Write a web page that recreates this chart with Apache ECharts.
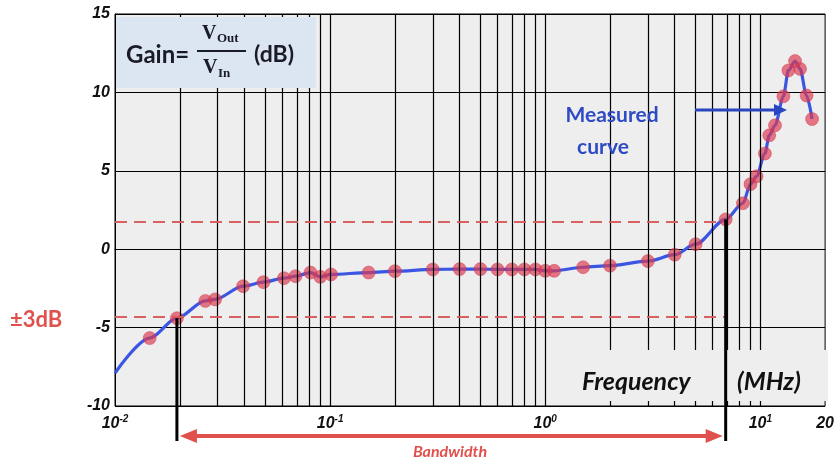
<!DOCTYPE html>
<html><head><meta charset="utf-8">
<script src="https://cdn.jsdelivr.net/npm/echarts@6/dist/echarts.min.js"></script>
<style>html,body{margin:0;padding:0;background:#fff}#c{width:837px;height:461px}</style>
</head><body><div id="c"></div>
<script>
// Measured points (frequency in MHz, gain in dB)
const freqs = [0.0145, 0.0194, 0.0263, 0.0292, 0.0394, 0.049, 0.061, 0.069, 0.081, 0.090, 0.101, 0.151, 0.2, 0.3, 0.4, 0.5, 0.6, 0.7, 0.8, 0.9, 1.0, 1.1, 1.5, 2.0, 3.0, 4.0, 5.0, 6.9, 8.3, 9.0, 9.6, 10.5, 11.0, 11.7, 12.8, 13.5, 14.5, 15.3, 16.4, 17.4];
const gains = [-5.67, -4.4, -3.3, -3.2, -2.36, -2.1, -1.85, -1.72, -1.49, -1.76, -1.61, -1.49, -1.4, -1.29, -1.27, -1.27, -1.29, -1.29, -1.29, -1.29, -1.38, -1.38, -1.15, -1.05, -0.76, -0.35, 0.32, 1.9, 2.93, 4.15, 4.65, 6.1, 7.26, 7.9, 9.75, 11.4, 12.0, 11.5, 9.8, 8.3];
// curve begins at the left edge before the first measured point
const curveStartFreq = 0.01, curveStartGain = -7.9;
// -3 dB limits and bandwidth edges (indices into measured points)
const upperLimit = 1.75, lowerLimit = -4.3;
const bandLowIdx = 1, bandHighIdx = 27;
// axis
const xMin = 0.01, xMax = 20;
const yMin = -10, yMax = 15, yStep = 5;
const gridFreqs = [0.02,0.03,0.04,0.05,0.06,0.07,0.08,0.09,0.1,0.2,0.3,0.4,0.5,0.6,0.7,0.8,0.9,1,2,3,4,5,6,7,8,9,10];

const points = freqs.map((f, i) => [f, gains[i]]);
const curve = [[curveStartFreq, curveStartGain]].concat(points);

const chart = echarts.init(document.getElementById('c'), null, {renderer: 'canvas'});
const lblFont = {fontFamily: 'Liberation Sans', fontWeight: 'bold', fontStyle: 'italic', color: '#111'};
const red = '#e0514d';

const option = {
  animation: false,
  grid: {left: 115, right: 7, top: 14, bottom: 55, show: true, backgroundColor: '#eeeeee', borderColor: '#000', borderWidth: 1},
  xAxis: {
    type: 'log', logBase: 10, min: xMin, max: xMax,
    axisLine: {show: true, lineStyle: {color: '#000', width: 1}},
    axisTick: {show: false}, splitLine: {show: false},
    axisLabel: {
      margin: 8,
      formatter: function (v) {
        const e = Math.log10(v), r = Math.round(e);
        if (Math.abs(e - r) < 1e-6) return '{b|10}{s|' + r + '}';
        return '{b|' + Math.round(v) + '}';
      },
      rich: {
        b: Object.assign({fontSize: 16, lineHeight: 20}, lblFont),
        s: Object.assign({fontSize: 10, lineHeight: 10, verticalAlign: 'top'}, lblFont)
      }
    }
  },
  yAxis: {
    type: 'value', min: yMin, max: yMax, interval: yStep,
    axisLine: {show: true, lineStyle: {color: '#000', width: 1}},
    axisTick: {show: true, inside: true, length: 4, lineStyle: {color: '#000'}},
    splitLine: {show: true, lineStyle: {color: '#000', width: 1}},
    axisLabel: Object.assign({fontSize: 16, margin: 5}, lblFont)
  },
  series: [
    {
      type: 'line', data: [], z: 1, silent: true,
      markLine: {
        silent: true, symbol: ['none', 'none'], label: {show: false},
        lineStyle: {color: '#000', width: 1.2, type: 'solid'},
        emphasis: {disabled: true},
        data: gridFreqs.map(f => ({xAxis: f}))
      }
    },
    {
      type: 'line', data: curve, smooth: 0.3, smoothMonotone: 'x', symbol: 'none', z: 3,
      lineStyle: {color: '#3a56e2', width: 3.2},
      markLine: {
        silent: true, symbol: ['none', 'none'], label: {show: false},
        lineStyle: {color: 'rgba(214,88,88,0.95)', width: 2, type: [12, 7]},
        data: [
          [{coord: [xMin, upperLimit]}, {coord: [freqs[bandHighIdx], upperLimit]}],
          [{coord: [xMin, lowerLimit]}, {coord: [freqs[bandHighIdx], lowerLimit]}]
        ]
      }
    },
    {
      type: 'scatter', data: points, symbolSize: 13, z: 4,
      itemStyle: {color: 'rgba(222,58,80,0.85)', borderColor: 'rgba(200,50,70,0.5)', borderWidth: 1}
    }
  ],
  graphic: [
    {type: 'rect', id: 'gainBox', z: 10, shape: {x: 116, y: 17, width: 200, height: 71}, style: {fill: '#dce6f2'}},
    {type: 'rect', id: 'freqBox', z: 10, shape: {x: 572, y: 350, width: 256, height: 51}, style: {fill: '#eeeeee'}},
    {type: 'text', z: 11, x: 126, y: 55, style: {text: 'Gain=', font: 'bold 24px Lato', fill: '#1b1b28', textVerticalAlign: 'middle', verticalAlign: 'middle'}},
    {type: 'text', z: 11, x: 202, y: 34, style: {text: 'V', font: 'bold 20px "Liberation Serif"', fill: '#1b1b28', textVerticalAlign: 'middle', verticalAlign: 'middle'}},
    {type: 'text', z: 11, x: 217, y: 39, style: {text: 'Out', font: 'bold 13px "Liberation Serif"', fill: '#1b1b28', textVerticalAlign: 'middle', verticalAlign: 'middle'}},
    {type: 'line', z: 11, shape: {x1: 197, y1: 51, x2: 246, y2: 51}, style: {stroke: '#1b1b28', lineWidth: 2}},
    {type: 'text', z: 11, x: 203, y: 68, style: {text: 'V', font: 'bold 20px "Liberation Serif"', fill: '#1b1b28', textVerticalAlign: 'middle', verticalAlign: 'middle'}},
    {type: 'text', z: 11, x: 218, y: 74, style: {text: 'In', font: 'bold 13px "Liberation Serif"', fill: '#1b1b28', textVerticalAlign: 'middle', verticalAlign: 'middle'}},
    {type: 'text', z: 11, x: 254, y: 55, style: {text: '(dB)', font: 'bold 23px Lato', fill: '#1b1b28', textVerticalAlign: 'middle', verticalAlign: 'middle'}},
    {type: 'text', z: 11, x: 612, y: 115, style: {text: 'Measured', font: 'bold 21px Lato', fill: '#2f4bc4', textAlign: 'center', align: 'center', textVerticalAlign: 'middle', verticalAlign: 'middle'}},
    {type: 'text', z: 11, x: 603, y: 147, style: {text: 'curve', font: 'bold 21px Lato', fill: '#2f4bc4', textAlign: 'center', align: 'center', textVerticalAlign: 'middle', verticalAlign: 'middle'}},
    {type: 'line', z: 11, shape: {x1: 695, y1: 110, x2: 776, y2: 110}, style: {stroke: '#2a45c0', lineWidth: 3}},
    {type: 'polygon', z: 11, shape: {points: [[774, 104], [787, 110], [774, 116]]}, style: {fill: '#2a45c0'}},
    {type: 'text', z: 11, x: 582, y: 382, style: {text: 'Frequency', font: 'italic bold 25px Lato', fill: '#111', textVerticalAlign: 'middle', verticalAlign: 'middle'}},
    {type: 'text', z: 11, x: 737, y: 382, style: {text: '(MHz)', font: 'italic bold 25px Lato', fill: '#111', textVerticalAlign: 'middle', verticalAlign: 'middle'}},
    {type: 'text', z: 11, x: 10, y: 320, style: {text: '±3dB', font: 'bold 22px Lato', fill: red, textVerticalAlign: 'middle', verticalAlign: 'middle'}},
    {type: 'text', z: 11, x: 450, y: 452, style: {text: 'Bandwidth', font: 'italic bold 16px Lato', fill: red, textAlign: 'center', align: 'center', textVerticalAlign: 'middle', verticalAlign: 'middle'}}
  ]
};
chart.setOption(option);

const pLow = chart.convertToPixel({gridIndex: 0}, [freqs[bandLowIdx], gains[bandLowIdx]]);
const pHigh = chart.convertToPixel({gridIndex: 0}, [freqs[bandHighIdx], gains[bandHighIdx]]);
const ay = 436, bottomY = 441;
chart.setOption({
  graphic: [
    {type: 'line', id: 'bwL', z: 12, shape: {x1: pLow[0], y1: pLow[1], x2: pLow[0], y2: bottomY}, style: {stroke: '#000', lineWidth: 3}},
    {type: 'line', id: 'bwH', z: 12, shape: {x1: pHigh[0], y1: pHigh[1], x2: pHigh[0], y2: bottomY}, style: {stroke: '#000', lineWidth: 3}},
    {type: 'line', id: 'bwArrow', z: 11, shape: {x1: pLow[0] + 14, y1: ay, x2: pHigh[0] - 14, y2: ay}, style: {stroke: red, lineWidth: 4}},
    {type: 'polygon', id: 'bwArrL', z: 11, shape: {points: [[pLow[0] + 3, ay], [pLow[0] + 20, ay - 7], [pLow[0] + 20, ay + 7]]}, style: {fill: red}},
    {type: 'polygon', id: 'bwArrR', z: 11, shape: {points: [[pHigh[0] - 3, ay], [pHigh[0] - 20, ay - 7], [pHigh[0] - 20, ay + 7]]}, style: {fill: red}}
  ]
});
</script></body></html>
